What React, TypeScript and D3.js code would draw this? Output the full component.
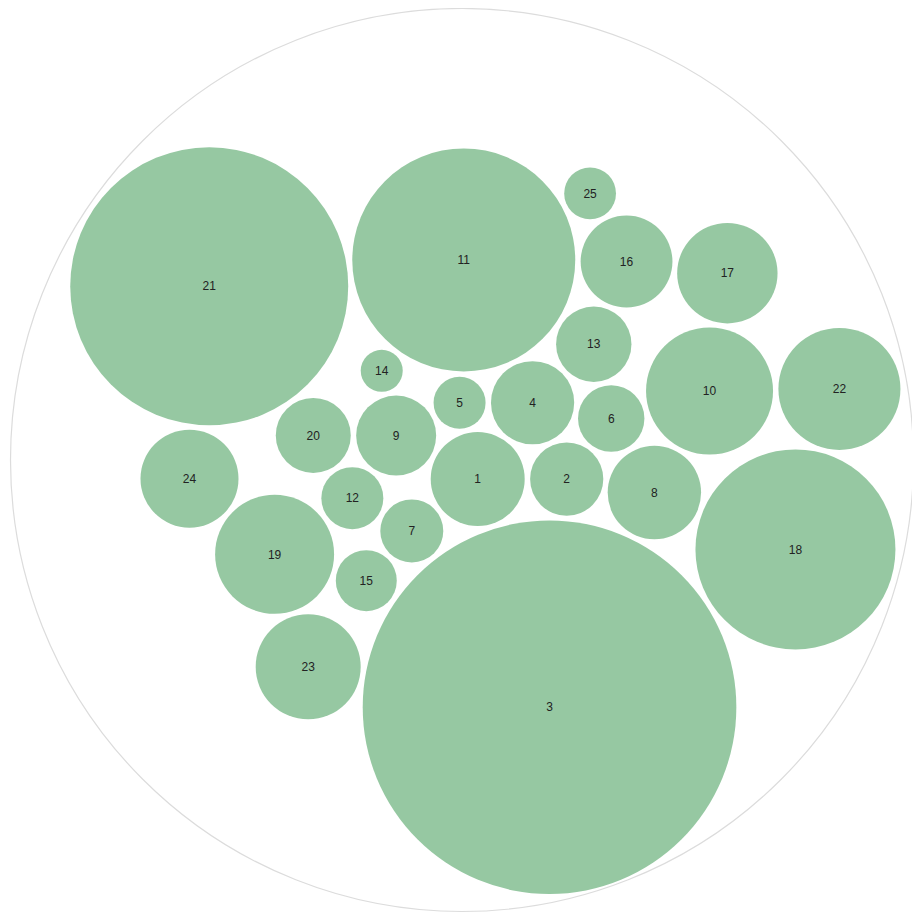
import React from 'react';
import { hierarchy, pack } from 'd3';

// bubble labels and their values (area ~ value), in data order
const labels = ['1', '2', '3', '4', '5', '6', '7', '8', '9', '10', '11', '12', '13',
  '14', '15', '16', '17', '18', '19', '20', '21', '22', '23', '24', '25'];
const values = [2209, 1340, 34900, 1731, 676, 1102, 992, 2181, 1600, 4032, 12430, 961, 1420,
  441, 930, 2107, 2520, 10000, 3540, 1406, 19320, 3721, 2756, 2401, 671];

const W = 912;
const H = 906;

const App = () => {
  const data = { name: 'root', children: labels.map((l, i) => ({ name: l, value: values[i] })) };

  const root = hierarchy<any>(data).sum(d => d.value || 0);
  const packed = pack<any>().size([908, 904]).padding(5.5)(root);
  const leaves = packed.leaves();

  return (
    <svg width={W} height={H} style={{ display: 'block', fontFamily: 'Arial, "Liberation Sans", sans-serif' }}>
      <circle cx={packed.x} cy={packed.y} r={packed.r - 0.5} fill="#fff" stroke="#dcdcdc" strokeWidth={1.2} />
      <g transform="translate(-1,3)">
        {leaves.map(d => (
          <g key={d.data.name} transform={`translate(${d.x},${d.y})`}>
            <circle r={d.r} fill="#96c8a2" />
            <text textAnchor="middle" dy="0.35em" fontSize={12} fill="#222">{d.data.name}</text>
          </g>
        ))}
      </g>
    </svg>
  );
};

export default App;
